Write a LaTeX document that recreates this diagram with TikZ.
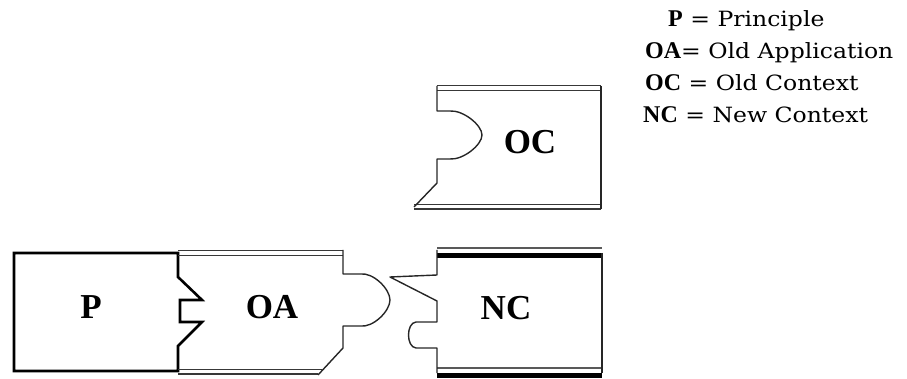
\documentclass[tikz,border=0pt]{standalone}
\usepackage{fontspec}
\setmainfont{Liberation Serif}
\newfontfamily\legendfont{DejaVu Serif}[FakeStretch=1.12]
\newcommand{\lbold}[1]{{\rmfamily\bfseries\fontsize{24}{28}\selectfont #1}}
\begin{document}
\begin{tikzpicture}[x=1pt,y=-1pt,
  pline/.style={line width=2.6pt,line join=miter,black},
  thinl/.style={line width=1.4pt,line join=round,black!85},
  dbl/.style={line width=1.9pt,black!78},
  ncthin/.style={line width=1.3pt,black!65},
  ncthick/.style={line width=5pt,black},
  lab/.style={font=\rmfamily\bfseries\fontsize{35}{40}\selectfont,inner sep=0pt},
  leg/.style={font=\legendfont\fontsize{21}{25}\selectfont,inner sep=0pt,anchor=base west}]
\useasboundingbox (0,0) rectangle (907,379);
% P block
\draw[pline] (178,253) -- (14,253) -- (14,371) -- (178,371) -- (178,346) -- (202,322) -- (180,322) -- (180,300) -- (202,300) -- (178,277) -- cycle;
% OA block
\draw[dbl] (178,250.5) -- (343,250.5);
\draw[dbl] (178,255.5) -- (343,255.5);
\draw[dbl] (178,369.5) -- (322,369.5);
\draw[dbl] (178,374) -- (318,374);
\draw[thinl] (343,250) -- (343,274) -- (360,274) .. controls (373,272) and (390,289) .. (390,300) .. controls (390,311) and (373,328) .. (360,326) -- (343,326) -- (343,348) -- (318,375);
% NC block
\draw[ncthin] (437,248) -- (602,248);
\draw[ncthick] (437,255.5) -- (602,255.5);
\draw[ncthin] (437,368) -- (602,368);
\draw[ncthick] (437,375) -- (602,375);
\draw[thinl] (602,253) -- (602,373);
\draw[thinl] (437,250) -- (437,275) -- (390,277) -- (437,301) -- (437,322) -- (416,322) .. controls (406,323) and (406,347) .. (416,348) -- (437,348) -- (437,373);
% OC block
\draw[dbl] (437,85.5) -- (601,85.5);
\draw[dbl] (437,90.5) -- (601,90.5);
\draw[dbl] (414,204.5) -- (601,204.5);
\draw[dbl] (414,209) -- (601,209);
\draw[thinl] (601,86) -- (601,209);
\draw[thinl] (437,86) -- (437,111) -- (450,111) .. controls (463,110) and (482,125) .. (482,135) .. controls (482,145) and (463,160) .. (450,159) -- (437,159) -- (437,183) -- (414,207);
% labels
\node[lab] (p) at (91,307) {P};
\node[lab] (oa) at (272,307) {OA};
\node[lab] (nc) at (506,308) {NC};
\node[lab] (oc) at (530,142) {OC};
% legend
\node[leg] (l1) at (668,27) {\lbold{P} = Principle};
\node[leg] (l2) at (645,59) {\lbold{OA}= Old Application};
\node[leg] (l3) at (645,91) {\lbold{OC} = Old Context};
\node[leg] (l4) at (643,123) {\lbold{NC} = New Context};
\end{tikzpicture}
\end{document}
